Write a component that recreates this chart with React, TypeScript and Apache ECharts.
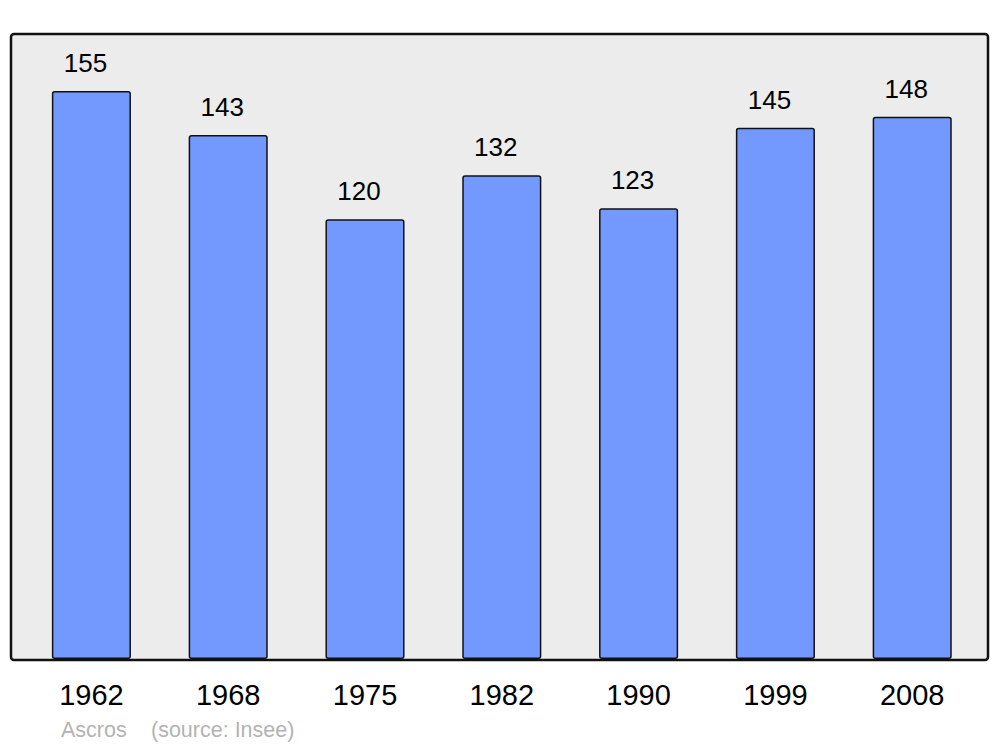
import React, { useEffect, useRef } from "react";
import * as echarts from "echarts";

const years = ["1962", "1968", "1975", "1982", "1990", "1999", "2008"];
const population = [155, 143, 120, 132, 123, 145, 148];
const footerName = "Ascros";
const footerSource = "(source: Insee)";

export default function App() {
  const ref = useRef<HTMLDivElement>(null);
  useEffect(() => {
    if (!ref.current) return;
    const chart = echarts.init(ref.current, null, { renderer: "svg" });
    chart.setOption({
      animation: false,
      textStyle: { fontFamily: "Liberation Sans, Arial, sans-serif" },
      grid: { left: 23, right: 19.4, top: 91, bottom: 88, containLabel: false },
      graphic: [
        {
          type: "rect",
          z: -10,
          shape: { x: 11, y: 34, width: 977, height: 626, r: 3 },
          style: { fill: "#ececec", stroke: "#111111", lineWidth: 2.5 },
        },
        {
          type: "text",
          x: 61,
          y: 730,
          style: {
            text: footerName,
            fontSize: 21.5,
            fill: "#b3b3b3",
            verticalAlign: "middle",
            fontFamily: "Liberation Sans, Arial, sans-serif",
          },
        },
        {
          type: "text",
          x: 151,
          y: 730,
          style: {
            text: footerSource,
            fontSize: 21.5,
            fill: "#b3b3b3",
            verticalAlign: "middle",
            fontFamily: "Liberation Sans, Arial, sans-serif",
          },
        },
      ],
      xAxis: {
        type: "category",
        data: years,
        axisLine: { show: false },
        axisTick: { show: false },
        axisLabel: { fontSize: 29, color: "#000", margin: 21 },
      },
      yAxis: {
        type: "value",
        min: 0,
        max: 155,
        show: false,
        splitLine: { show: false },
      },
      series: [
        {
          type: "bar",
          data: population,
          barWidth: "57.8%",
          itemStyle: {
            color: "#7399ff",
            borderColor: "#111111",
            borderWidth: 1.5,
            borderRadius: 2,
          },
          label: {
            show: true,
            position: "top",
            distance: 15,
            offset: [-6, 0],
            fontSize: 26,
            color: "#000",
          },
        },
      ],
    });
    return () => chart.dispose();
  }, []);
  return (
    <div
      ref={ref}
      style={{ position: "fixed", left: 0, top: 0, width: 1000, height: 747, background: "#fff" }}
    />
  );
}
